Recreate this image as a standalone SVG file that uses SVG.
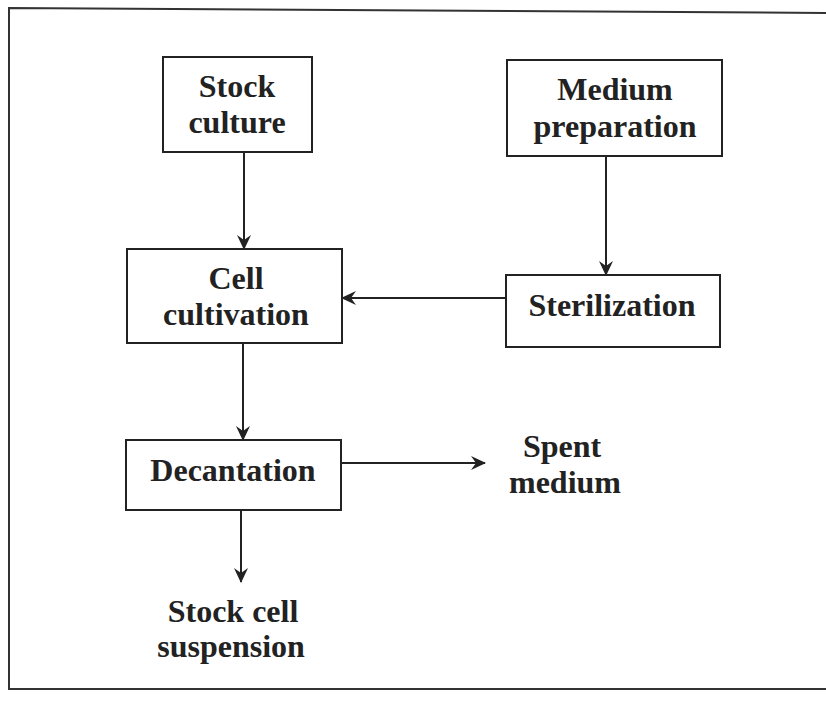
<svg xmlns="http://www.w3.org/2000/svg" width="826" height="701" viewBox="0 0 826 701">
<defs>
<marker id="ah" viewBox="0 0 15 14" refX="14" refY="7" markerWidth="15" markerHeight="14" markerUnits="userSpaceOnUse" orient="auto">
<path d="M0,0 L15,7 L0,14 L5,7 Z" fill="#222"/>
</marker>
</defs>
<style>
.box{fill:#fff;stroke:#222;stroke-width:2}
.t{font-family:"Liberation Serif","Times New Roman",serif;font-weight:bold;font-size:32px;fill:#222;text-anchor:middle}
.c{stroke:#222;stroke-width:2;fill:none;marker-end:url(#ah)}
.frame{stroke:#333;stroke-width:2;fill:none}
</style>
<rect width="826" height="701" fill="#fff"/>
<path class="frame" d="M826,13 L9,8 L9,689 L826,689"/>
<g id="stock-culture">
<rect class="box" x="163" y="57" width="149" height="95"/>
<text class="t" x="237" y="97">Stock</text>
<text class="t" x="237" y="133">culture</text>
</g>
<g id="medium-preparation">
<rect class="box" x="507" y="60" width="215" height="96"/>
<text class="t" x="615" y="100">Medium</text>
<text class="t" x="615" y="137">preparation</text>
</g>
<g id="cell-cultivation">
<rect class="box" x="127" y="249" width="215" height="94"/>
<text class="t" x="236" y="289">Cell</text>
<text class="t" x="236" y="325">cultivation</text>
</g>
<g id="sterilization">
<rect class="box" x="506" y="275" width="214" height="72"/>
<text class="t" x="612" y="316">Sterilization</text>
</g>
<g id="decantation">
<rect class="box" x="126" y="440" width="215" height="70"/>
<text class="t" x="233" y="481">Decantation</text>
</g>
<g id="spent-medium">
<text class="t" x="562" y="457">Spent</text>
<text class="t" x="565" y="493">medium</text>
</g>
<g id="stock-cell-suspension">
<text class="t" x="233" y="622">Stock cell</text>
<text class="t" x="231" y="657">suspension</text>
</g>
<g id="connectors">
<line class="c" x1="244" y1="152" x2="244" y2="249"/>
<line class="c" x1="606" y1="156" x2="606" y2="275"/>
<line class="c" x1="506" y1="298" x2="342" y2="298"/>
<line class="c" x1="243" y1="343" x2="243" y2="440"/>
<line class="c" x1="341" y1="463" x2="485" y2="463"/>
<line class="c" x1="241" y1="510" x2="241" y2="582"/>
</g>
</svg>
